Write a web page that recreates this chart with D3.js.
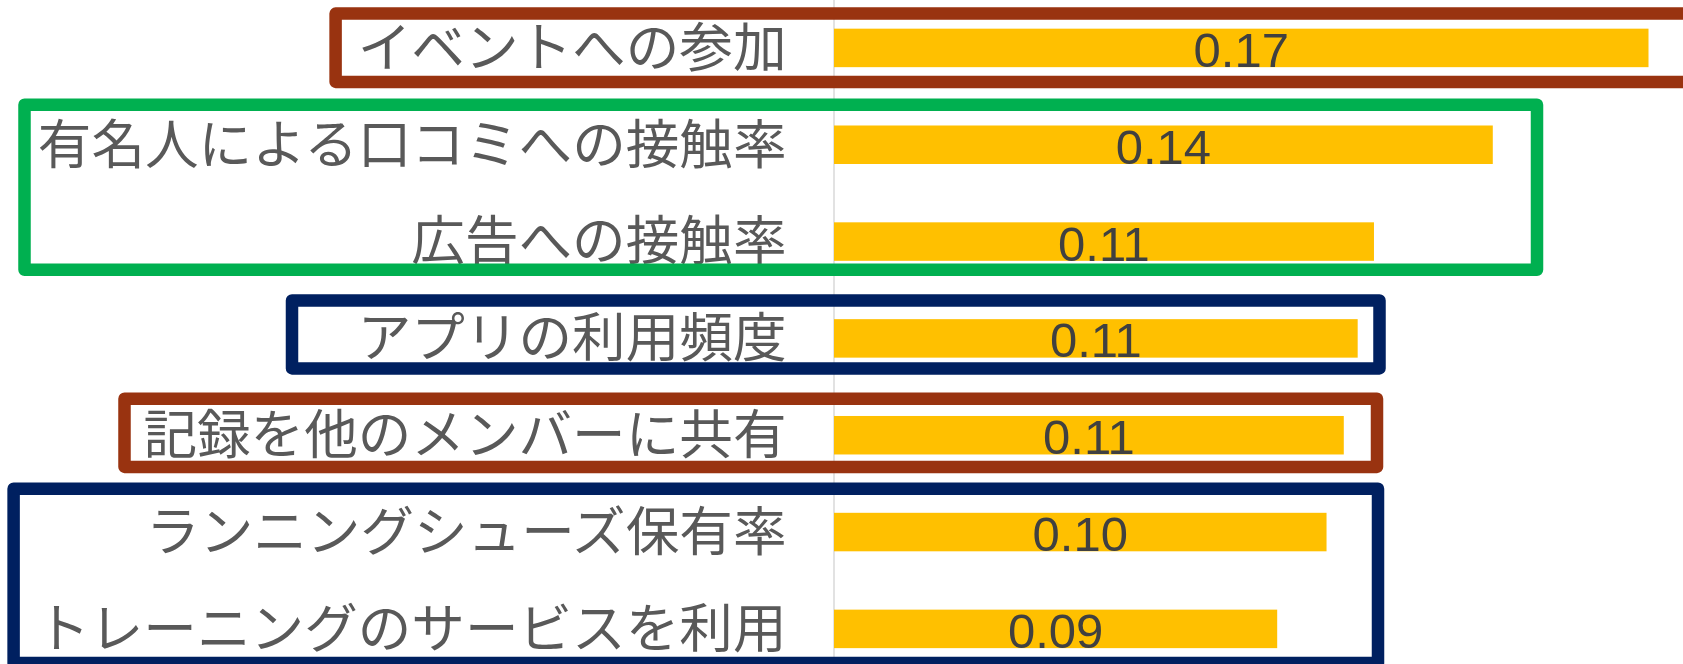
<!DOCTYPE html>
<html lang="ja">
<head>
<meta charset="utf-8">
<script src="https://cdn.jsdelivr.net/npm/d3@7"></script>
<style>
  html, body { margin: 0; padding: 0; background: #fff; }
  svg { display: block; }
  .cat { font-family: "Noto Sans CJK JP", "Noto Sans", sans-serif; font-size: 53.6px; fill: #595959; }
  .val { font-family: "Liberation Sans Narrow", "Liberation Sans", sans-serif; font-size: 49px; fill: #404040; }
</style>
</head>
<body>
<script>
// Categories, top to bottom
const categories = [
  "イベントへの参加",
  "有名人による口コミへの接触率",
  "広告への接触率",
  "アプリの利用頻度",
  "記録を他のメンバーに共有",
  "ランニングシューズ保有率",
  "トレーニングのサービスを利用"
];
// Importance score per category
const values = [0.170, 0.1375, 0.1127, 0.1093, 0.1064, 0.1028, 0.0925];

// Highlight frames grouping categories (index range, colour, horizontal extent, vertical padding)
const groupFrames = [
  { first: 0, last: 0, color: "#993310", left: 335.6, right: 1700, padTop: 34.3, padBottom: 34 },
  { first: 1, last: 2, color: "#00B050", left: 24.5, right: 1537, padTop: 40, padBottom: 28.3 },
  { first: 3, last: 3, color: "#002060", left: 292, right: 1379.5, padTop: 38, padBottom: 30 },
  { first: 4, last: 4, color: "#993310", left: 124.5, right: 1377, padTop: 36.5, padBottom: 31.7 },
  { first: 5, last: 6, color: "#002060", left: 13.6, right: 1378, padTop: 43.4, padBottom: 34 }
];

const W = 1683, H = 664;
const fmt = d3.format(".2f");

const svg = d3.select("body").append("svg")
  .attr("width", W).attr("height", H);

const x = d3.scaleLinear().domain([0, 0.1772]).range([834, W]);
const y = d3.scaleBand().domain(categories).range([-0.5, 677.3])
  .paddingInner(0.6024).paddingOuter(0.3012);

const data = categories.map((c, i) => ({ cat: c, value: values[i] }));

// Zero line
svg.append("line")
  .attr("x1", x(0)).attr("x2", x(0))
  .attr("y1", 0).attr("y2", H)
  .attr("stroke", "#d9d9d9").attr("stroke-width", 1.5);

// Bars
svg.append("g").selectAll("rect").data(data).join("rect")
  .attr("x", x(0))
  .attr("y", d => y(d.cat))
  .attr("width", d => x(d.value) - x(0))
  .attr("height", y.bandwidth())
  .attr("fill", "#FFC000");

// Value labels centred in each bar
svg.append("g").selectAll("text").data(data).join("text")
  .attr("class", "val")
  .attr("x", d => (x(0) + x(d.value)) / 2)
  .attr("y", d => y(d.cat) + y.bandwidth() / 2 + 19)
  .attr("text-anchor", "middle")
  .text(d => fmt(d.value));

// Category labels
svg.append("g").selectAll("text").data(data).join("text")
  .attr("class", "cat")
  .attr("x", x(0) - 47.5)
  .attr("y", d => y(d.cat) + y.bandwidth() / 2)
  .attr("dy", "0.35em")
  .attr("text-anchor", "end")
  .text(d => d.cat);

// Group frames
svg.append("g").selectAll("rect").data(groupFrames).join("rect")
  .attr("x", d => d.left)
  .attr("y", d => y(categories[d.first]) + y.bandwidth() / 2 - d.padTop)
  .attr("width", d => d.right - d.left)
  .attr("height", d => (y(categories[d.last]) + y.bandwidth() / 2 + d.padBottom) - (y(categories[d.first]) + y.bandwidth() / 2 - d.padTop))
  .attr("fill", "none")
  .attr("stroke", d => d.color)
  .attr("stroke-width", 12.5)
  .attr("stroke-linejoin", "round");
</script>
</body>
</html>
